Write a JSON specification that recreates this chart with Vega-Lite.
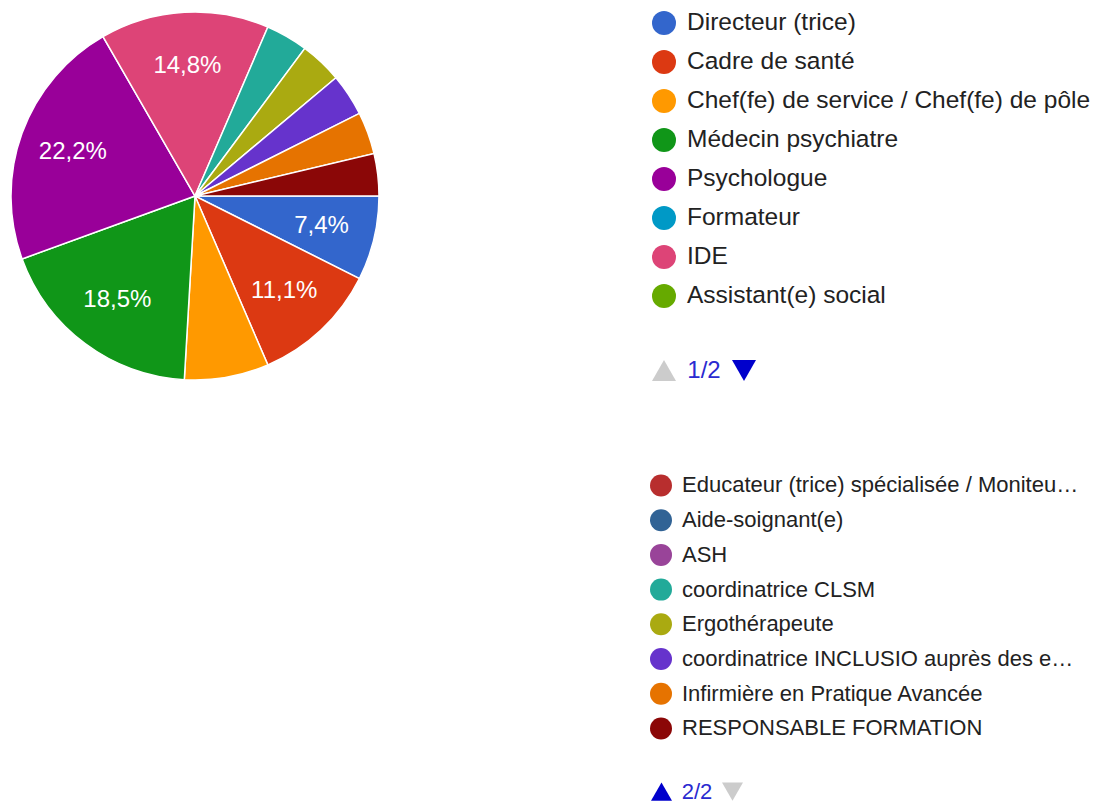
{
  "$schema": "https://vega.github.io/schema/vega-lite/v6.json",
  "padding": 0,
  "background": "white",
  "config": {"view": {"stroke": null}, "font": "Liberation Sans"},
  "datasets": {
    "cats": [
      {"ord": 1, "cat": "Directeur (trice)", "n": 2, "pct": "7,4%", "page": 1},
      {"ord": 2, "cat": "Cadre de santé", "n": 3, "pct": "11,1%", "page": 1},
      {"ord": 3, "cat": "Chef(fe) de service / Chef(fe) de pôle", "n": 2, "pct": "", "page": 1},
      {"ord": 4, "cat": "Médecin psychiatre", "n": 5, "pct": "18,5%", "page": 1},
      {"ord": 5, "cat": "Psychologue", "n": 6, "pct": "22,2%", "page": 1},
      {"ord": 6, "cat": "Formateur", "n": 0, "pct": "", "page": 1},
      {"ord": 7, "cat": "IDE", "n": 4, "pct": "14,8%", "page": 1},
      {"ord": 8, "cat": "Assistant(e) social", "n": 0, "pct": "", "page": 1},
      {"ord": 9, "cat": "Educateur (trice) spécialisée / Moniteu…", "n": 0, "pct": "", "page": 2},
      {"ord": 10, "cat": "Aide-soignant(e)", "n": 0, "pct": "", "page": 2},
      {"ord": 11, "cat": "ASH", "n": 0, "pct": "", "page": 2},
      {"ord": 12, "cat": "coordinatrice CLSM", "n": 1, "pct": "", "page": 2},
      {"ord": 13, "cat": "Ergothérapeute", "n": 1, "pct": "", "page": 2},
      {"ord": 14, "cat": "coordinatrice INCLUSIO auprès des e…", "n": 1, "pct": "", "page": 2},
      {"ord": 15, "cat": "Infirmière en Pratique Avancée", "n": 1, "pct": "", "page": 2},
      {"ord": 16, "cat": "RESPONSABLE FORMATION", "n": 1, "pct": "", "page": 2}
    ],
    "nav1": [
      {"k": "up", "shape": "triangle-up", "col": "#cccccc", "txt": ""},
      {"k": "page", "shape": "", "col": "#2a2ad0", "txt": "1/2"},
      {"k": "down", "shape": "triangle-down", "col": "#0000cc", "txt": ""}
    ],
    "nav2": [
      {"k": "up", "shape": "triangle-up", "col": "#0000cc", "txt": ""},
      {"k": "page", "shape": "", "col": "#2a2ad0", "txt": "2/2"},
      {"k": "down", "shape": "triangle-down", "col": "#cccccc", "txt": ""}
    ]
  },
  "spacing": 260,
  "hconcat": [
    {
      "width": 390,
      "height": 392,
      "data": {"name": "cats"},
      "transform": [{"filter": "datum.n > 0"}],
      "encoding": {
        "theta": {"field": "n", "type": "quantitative", "stack": true, "scale": {"range": [1.5707963, 7.8539816]}},
        "order": {"field": "ord", "type": "quantitative", "sort": "ascending"},
        "color": {
          "field": "cat", "type": "nominal", "legend": null,
          "scale": {
            "domain": ["Directeur (trice)", "Cadre de santé", "Chef(fe) de service / Chef(fe) de pôle", "Médecin psychiatre", "Psychologue", "Formateur", "IDE", "Assistant(e) social", "Educateur (trice) spécialisée / Moniteu…", "Aide-soignant(e)", "ASH", "coordinatrice CLSM", "Ergothérapeute", "coordinatrice INCLUSIO auprès des e…", "Infirmière en Pratique Avancée", "RESPONSABLE FORMATION"],
            "range": ["#3366cc", "#dc3912", "#ff9900", "#109618", "#990099", "#0099c6", "#dd4477", "#66aa00", "#b82e2e", "#316395", "#994499", "#22aa99", "#aaaa11", "#6633cc", "#e67300", "#8b0707"]
          }
        }
      },
      "layer": [
        {"mark": {"type": "arc", "outerRadius": 184, "stroke": "white", "strokeWidth": 1.5}},
        {"mark": {"type": "text", "radius": 130, "fontSize": 24, "baseline": "middle", "align": "center"},
         "encoding": {"text": {"field": "pct"}, "color": {"value": "white"}}}
      ]
    },
    {
      "spacing": 0,
      "vconcat": [
        {
          "width": 26,
          "height": 315.5,
          "data": {"name": "cats"},
          "transform": [{"filter": "datum.page == 1"}],
          "encoding": {
            "y": {"field": "ord", "type": "ordinal", "axis": null, "scale": {"type": "band", "paddingInner": 0, "paddingOuter": 0.0449, "align": 1}}
          },
          "layer": [
            {"mark": {"type": "point", "filled": true, "size": 576, "opacity": 1},
             "encoding": {"color": {"field": "cat", "type": "nominal", "legend": null}}},
            {"mark": {"type": "text", "align": "left", "baseline": "middle", "dx": 23, "fontSize": 24.5, "color": "#222222"},
             "encoding": {"text": {"field": "cat"}}}
          ]
        },
        {
          "width": 106,
          "height": 109,
          "data": {"name": "nav1"},
          "encoding": {
            "x": {"field": "k", "type": "ordinal", "axis": null, "scale": {"type": "point", "domain": ["up", "page", "down"], "padding": 0.325}}
          },
          "layer": [
            {"transform": [{"filter": "datum.k != 'page'"}],
             "mark": {"type": "point", "filled": true, "size": 576, "opacity": 1},
             "encoding": {"shape": {"field": "shape", "type": "nominal", "scale": null}, "fill": {"field": "col", "type": "nominal", "scale": null}}},
            {"transform": [{"filter": "datum.k == 'page'"}],
             "mark": {"type": "text", "align": "center", "baseline": "middle", "fontSize": 24},
             "encoding": {"text": {"field": "txt"}, "fill": {"field": "col", "type": "nominal", "scale": null}}}
          ]
        },
        {
          "width": 20,
          "height": 320.8,
          "data": {"name": "cats"},
          "transform": [{"filter": "datum.page == 2"}],
          "encoding": {
            "y": {"field": "ord", "type": "ordinal", "axis": null, "scale": {"type": "band", "paddingInner": 0, "paddingOuter": 0.621, "align": 1}}
          },
          "layer": [
            {"mark": {"type": "point", "filled": true, "size": 484, "opacity": 1},
             "encoding": {"color": {"field": "cat", "type": "nominal", "legend": null}}},
            {"mark": {"type": "text", "align": "left", "baseline": "middle", "dx": 21, "fontSize": 22, "color": "#222222"},
             "encoding": {"text": {"field": "cat"}}}
          ]
        },
        {
          "width": 92,
          "height": 91.4,
          "data": {"name": "nav2"},
          "encoding": {
            "x": {"field": "k", "type": "ordinal", "axis": null, "scale": {"type": "point", "domain": ["up", "page", "down"], "padding": 0.296}}
          },
          "layer": [
            {"transform": [{"filter": "datum.k != 'page'"}],
             "mark": {"type": "point", "filled": true, "size": 441, "opacity": 1},
             "encoding": {"shape": {"field": "shape", "type": "nominal", "scale": null}, "fill": {"field": "col", "type": "nominal", "scale": null}}},
            {"transform": [{"filter": "datum.k == 'page'"}],
             "mark": {"type": "text", "align": "center", "baseline": "middle", "fontSize": 22},
             "encoding": {"text": {"field": "txt"}, "fill": {"field": "col", "type": "nominal", "scale": null}}}
          ]
        }
      ]
    }
  ]
}
